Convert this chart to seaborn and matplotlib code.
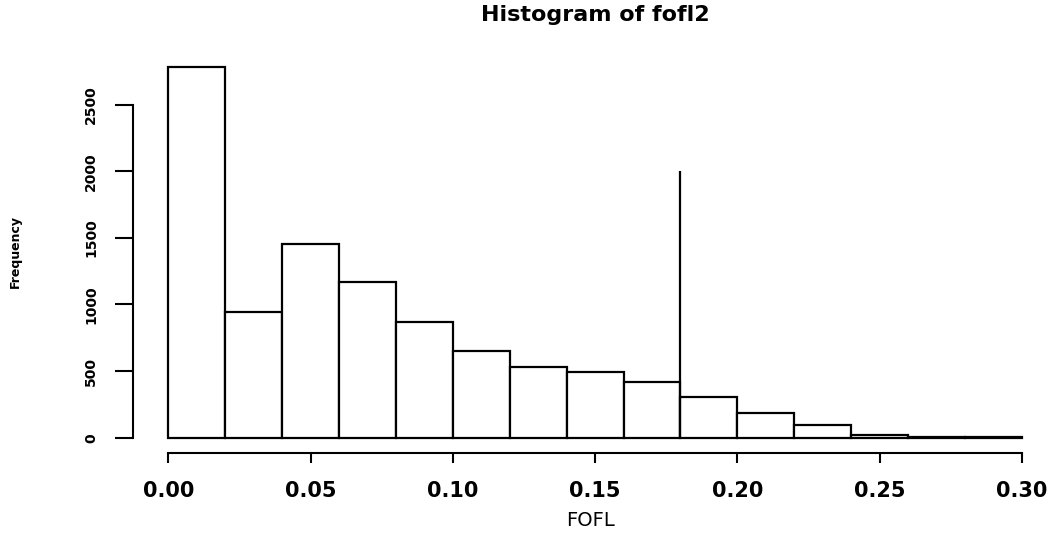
import numpy as np
import pandas as pd
import matplotlib
matplotlib.use("Agg")
import matplotlib.pyplot as plt
import seaborn as sns

# Histogram of fofl2: bin edges and counts per bin
bin_edges = [0.00, 0.02, 0.04, 0.06, 0.08, 0.10, 0.12, 0.14, 0.16,
             0.18, 0.20, 0.22, 0.24, 0.26, 0.28, 0.30]
counts = [2785, 946, 1454, 1171, 869, 651, 531, 493, 418,
          306, 188, 98, 18, 7, 2]

# Cut-off marker
cutoff_x = 0.18
cutoff_height = 2000

x_ticks = [0.00, 0.05, 0.10, 0.15, 0.20, 0.25, 0.30]
x_tick_labels = ["0.00", "0.05", "0.10", "0.15", "0.20", "0.25", "0.30"]
y_ticks = [0, 500, 1000, 1500, 2000, 2500]
y_tick_labels = ["0", "500", "1000", "1500", "2000", "2500"]

sns.set_style("ticks")
plt.rcParams["font.family"] = ["DejaVu Sans"]
plt.rcParams["text.color"] = "black"
plt.rcParams["axes.labelcolor"] = "black"

edges = np.array(bin_edges)
df = pd.DataFrame({"fofl": (edges[:-1] + edges[1:]) / 2,
                   "n": np.array(counts, dtype=float)})

fig = plt.figure(figsize=(10.56, 5.36), dpi=100)
ax = fig.add_axes([133 / 1056, 83 / 536, 915 / 1056, 403 / 536])

sns.histplot(data=df, x="fofl", weights="n", bins=bin_edges, stat="count",
             color="white", edgecolor="black", linewidth=1.6, alpha=1,
             ax=ax)

ax.vlines(cutoff_x, 0, cutoff_height, color="black", linewidth=1.6)

ax.set_xlim(-0.01241, 0.3092)
ax.set_ylim(-114.9, 2910.7)

for side in ("top", "right"):
    ax.spines[side].set_visible(False)
ax.spines["left"].set_bounds(0, 2500)
ax.spines["bottom"].set_bounds(0, 0.30)
for side in ("left", "bottom"):
    ax.spines[side].set_linewidth(1.5)
    ax.spines[side].set_color("black")

ax.set_xticks(x_ticks)
ax.set_xticklabels(x_tick_labels, fontsize=15, fontweight="bold")
ax.set_yticks(y_ticks)
ax.set_yticklabels(y_tick_labels, fontsize=10, fontweight="bold",
                   rotation=90, va="center")

ax.tick_params(axis="x", length=7.5, width=1.5, pad=13, colors="black")
ax.tick_params(axis="y", length=13, width=1.5, pad=12, colors="black")

ax.set_xlabel("FOFL", fontsize=14, labelpad=7)
ax.set_ylabel("Frequency", fontsize=9, fontweight="bold", labelpad=45)

fig.text(595 / 1056, 1 - 15 / 536, "Histogram of fofl2", fontsize=16,
         fontweight="bold", ha="center", va="center", color="black")

fig.savefig("out.png", dpi=100, facecolor="white")
